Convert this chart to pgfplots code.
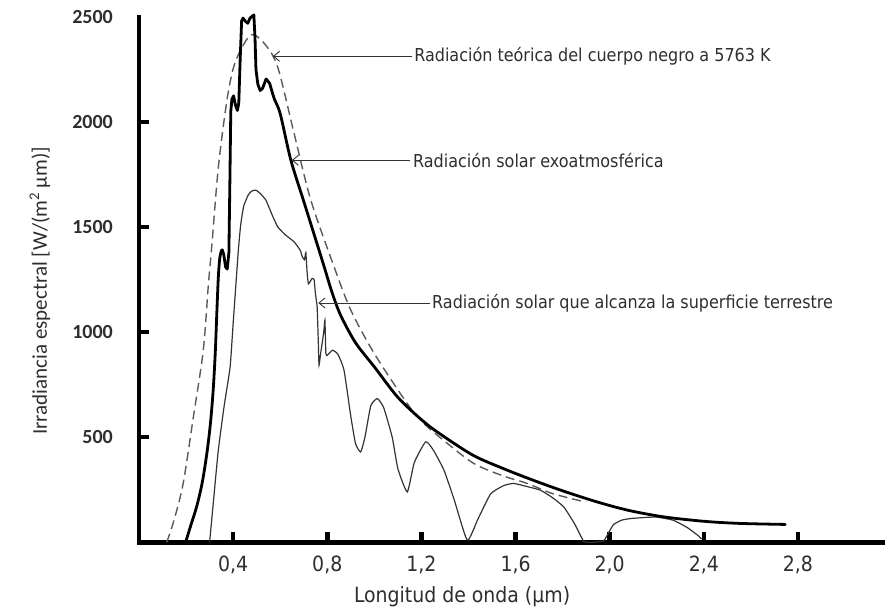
\documentclass[border=0pt]{standalone}
\usepackage{fontspec}
\usepackage{pgfplots}
\pgfplotsset{compat=1.18}
\usetikzlibrary{arrows.meta}
\newfontfamily\annfont{DejaVu Sans Condensed}
\newfontfamily\calfont{Carlito}
\definecolor{txt}{HTML}{2E2E2E}
\definecolor{cdash}{HTML}{5A5A5A}
\definecolor{cthin}{HTML}{333333}
\begin{document}
\begin{tikzpicture}
\path[use as bounding box] (-139pt,-66.7pt) rectangle (746pt,542.3pt);
\begin{axis}[
  at={(0pt,0pt)}, anchor=south west,
  scale only axis, width=746pt, height=525.3pt,
  xmin=0, xmax=3.17, ymin=0, ymax=2500,
  axis lines=left,
  axis line style={-, line width=4.5pt, line cap=rect, black},
  clip=false,
  xtick={0.4,0.8,1.2,1.6,2.0,2.4,2.8},
  xticklabels={{0,4},{0,8},{1,2},{1,6},{2,0},{2,4},{2,8}},
  ytick={500,1000,1500,2000},
  yticklabels={500,1000,1500,2000},
  extra y ticks={2500}, extra y tick labels={2500},
  extra y tick style={major tick length=0pt},
  tick align=inside, major tick length=10pt,
  tick style={line width=4.5pt, black},
  xticklabel style={font=\annfont\fontsize{21}{24}\selectfont, text=txt, anchor=base, yshift=-29.7pt, inner sep=0pt},
  yticklabel style={font=\calfont\bfseries\fontsize{20}{23}\selectfont, text=txt, anchor=east, xshift=-26pt, inner sep=0pt},
]
% Blackbody 5763 K (dashed)
\addplot[cdash, line width=1.4pt, dash pattern=on 9pt off 5pt, smooth, tension=0.5] coordinates {
(0.118,0) (0.15,110) (0.188,282) (0.231,596) (0.273,913) (0.295,1229) (0.310,1420)
(0.337,1783) (0.373,2099) (0.401,2257) (0.436,2352) (0.479,2416) (0.532,2375)
(0.589,2263) (0.659,1946) (0.73,1629) (0.829,1311) (0.9,1105) (1.0,898)
(1.14,660) (1.211,565) (1.30,480) (1.423,375) (1.55,315) (1.65,280) (1.749,235) (1.848,205) (1.90,192)
};
% Surface
\addplot[cthin, line width=1.2pt, smooth, tension=0.3] coordinates {
(0.300,0) (0.318,215) (0.337,438) (0.362,650) (0.387,833) (0.400,1040) (0.412,1230)
(0.422,1388) (0.432,1510) (0.445,1600) (0.465,1655) (0.48,1672)
(0.497,1676) (0.515,1660) (0.539,1629) (0.565,1560) (0.589,1502) (0.62,1465)
(0.659,1430) (0.685,1390) (0.694,1359) (0.703,1345) (0.709,1378) (0.714,1290)
(0.72,1230) (0.735,1255) (0.744,1250) (0.75,1180) (0.757,1120) (0.762,950)
(0.765,843) (0.772,900) (0.785,1000) (0.79,1057) (0.794,900) (0.80,890)
(0.822,914) (0.845,895) (0.871,820) (0.90,600) (0.92,470) (0.942,430)
(0.96,500) (0.985,650) (1.013,684) (1.04,640) (1.076,500) (1.10,350)
(1.14,240) (1.17,380) (1.218,478) (1.25,440) (1.296,343) (1.34,200)
(1.395,10) (1.44,110) (1.494,230) (1.55,270) (1.593,280) (1.65,265)
(1.706,248) (1.76,210) (1.805,168) (1.85,90) (1.89,5) (1.93,0) (1.975,8)
(2.0,55) (2.017,85) (2.05,105) (2.088,113) (2.15,118) (2.2,120) (2.27,105)
(2.33,70) (2.378,30) (2.39,15)
};
% Extraterrestrial: rising part
\addplot[black, line width=2.8pt, line cap=round, smooth, tension=0.5] coordinates {
(0.198,0) (0.22,80) (0.245,170) (0.268,280) (0.288,420) (0.303,560) (0.315,720)
(0.324,900) (0.331,1100) (0.337,1260) (0.343,1350) (0.350,1388)
};
% Extraterrestrial: jagged peak
\addplot[black, line width=2.8pt, line join=round, line cap=round] coordinates {
(0.350,1388) (0.354,1392) (0.360,1370) (0.368,1310)
(0.375,1300) (0.382,1380) (0.386,1700) (0.390,2050) (0.395,2110) (0.402,2125)
(0.410,2080) (0.418,2055) (0.424,2090) (0.430,2300) (0.436,2480) (0.442,2495)
(0.452,2480) (0.462,2470) (0.472,2495) (0.488,2510) (0.493,2400) (0.497,2250)
(0.505,2180) (0.515,2150) (0.525,2160) (0.540,2205) (0.555,2185)
};
% Extraterrestrial: tail
\addplot[black, line width=2.8pt, line cap=round, smooth, tension=0.5] coordinates {
(0.555,2185) (0.575,2110)
(0.60,2040) (0.645,1820) (0.70,1623) (0.75,1444) (0.787,1311) (0.82,1190)
(0.857,1080) (0.92,950) (1.0,835) (1.1,690) (1.211,573) (1.3,500) (1.423,412)
(1.55,350) (1.664,300) (1.80,245) (1.947,192) (2.08,152) (2.23,121) (2.40,100)
(2.55,90) (2.746,85)
};
% Annotations
\draw[cthin, line width=0.9pt, -{Straight Barb[length=6pt,width=10pt]}] (axis cs:1.160,2313) -- (axis cs:0.569,2313);
\node[anchor=west, inner sep=0pt, text=txt, font=\annfont\fontsize{17.8}{20}\selectfont] at (axis cs:1.169,2313) {Radiación teórica del cuerpo negro a 5763 K};
\draw[cthin, line width=0.9pt, -{Straight Barb[length=6pt,width=10pt]}] (axis cs:1.152,1818) -- (axis cs:0.649,1818);
\node[anchor=west, inner sep=0pt, text=txt, font=\annfont\fontsize{17.8}{20}\selectfont] at (axis cs:1.164,1818) {Radiación solar exoatmosférica};
\draw[cthin, line width=0.9pt, -{Straight Barb[length=6pt,width=10pt]}] (axis cs:1.237,1139) -- (axis cs:0.762,1139);
\node[anchor=west, inner sep=0pt, text=txt, font=\annfont\fontsize{17.8}{20}\selectfont] at (axis cs:1.245,1139) {Radiación solar que alcanza la superficie terrestre};
% Axis labels
\node[text=txt, font=\annfont\fontsize{21}{24}\selectfont] at (axis cs:1.373,-260) {Longitud de onda (µm)};
\node[rotate=90, text=txt, font=\calfont\fontsize{21}{24}\selectfont] at (axis cs:-0.421,1197) {Irradiancia espectral [W/(m\textsuperscript{2} µm)]};
\end{axis}
\end{tikzpicture}
\end{document}
